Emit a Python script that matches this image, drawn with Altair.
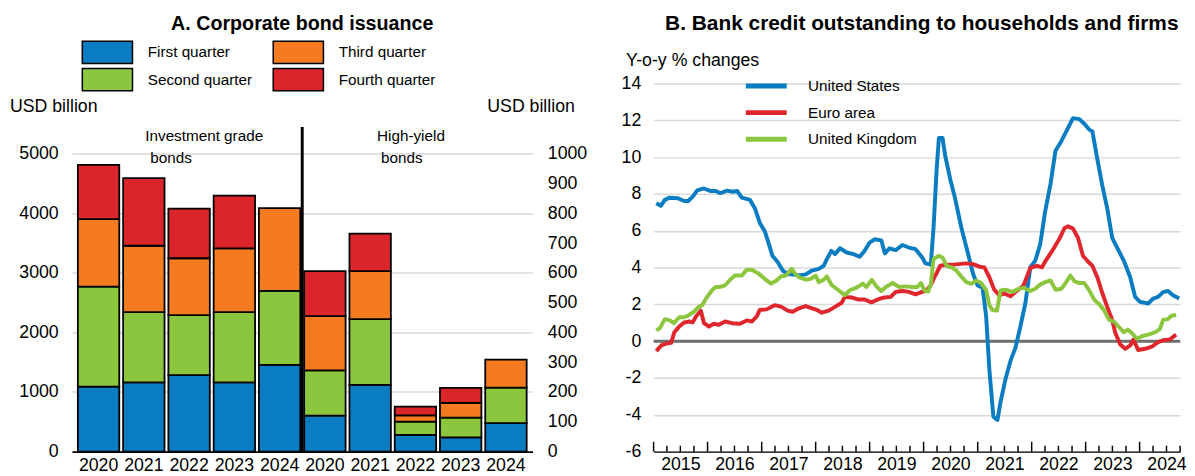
import altair as alt
import pandas as pd

FONT = "Liberation Sans"
BLUE, GREEN, ORANGE, RED = "#0a7cc1", "#8cc63e", "#f47b20", "#da252a"

# ---------------- Panel A data (USD billion, per quarter) ----------------
years = ["2020", "2021", "2022", "2023", "2024"]
quarters = ["First quarter", "Second quarter", "Third quarter", "Fourth quarter"]
ig_q1 = [1092, 1163, 1284, 1163, 1456]
ig_q2 = [1680, 1179, 1009, 1179, 1245]
ig_q3 = [1131, 1115, 954, 1070, 1389]
ig_q4 = [910, 1135, 832, 888, None]
hy_q1 = [121, 224, 56, 48, 96]
hy_q2 = [152, 221, 45, 66, 119]
hy_q3 = [182, 161, 21, 50, 94]
hy_q4 = [151, 126, 29, 50, None]

# ---------------- Panel B data (y-o-y % change; months since Jan 2015) ----------------
us_m = [0.6, 1.6, 2.5, 3.6, 5.4, 6.8, 7.7, 8.7, 9.7, 11.2,
        12.7, 13.8, 14.8, 16.3, 17.6, 18.6, 19.6, 21.4, 22.5, 23.6,
        24.7, 25.4, 26.4, 27.6, 28.7, 29.8, 30.9, 32.3, 33.8, 35.2,
        36.7, 37.8, 38.5, 39.5, 40.3, 41.4, 42.9, 44.4, 45.8, 46.9,
        48.0, 49.1, 50.6, 51.4, 52.4, 53.8, 55.3, 56.7, 58.2, 59.7,
        60.4, 61.6, 62.2, 62.9, 63.4, 64.2, 64.8, 65.9, 67.0, 68.4,
        69.9, 71.0, 72.0, 73.1, 73.9, 74.6, 75.5, 76.4, 77.1, 78.2,
        79.3, 80.4, 81.5, 82.6, 83.7, 84.8, 85.9, 87.0, 88.2, 89.3,
        90.6, 91.7, 93.2, 94.6, 95.7, 96.8, 97.5, 98.6, 99.7, 100.8,
        101.9, 103.0, 104.5, 105.9, 107.0, 108.1, 109.9, 111.0, 112.1, 113.2,
        114.3, 115.4, 116.8]
us_v = [7.5, 7.36, 7.68, 7.8, 7.77, 7.62, 7.62, 7.86, 8.2, 8.3,
        8.16, 8.16, 8.04, 8.18, 8.12, 8.16, 7.8, 7.68, 7.23, 6.43,
        5.98, 5.45, 4.64, 4.29, 3.84, 3.65, 3.63, 3.57, 3.63, 3.84,
        3.93, 4.1, 4.46, 4.91, 4.73, 5.05, 4.82, 4.73, 4.59, 4.91,
        5.36, 5.54, 5.48, 4.77, 5.05, 4.95, 5.23, 5.09, 5.0, 4.55,
        4.23, 4.17, 6.15, 9.36, 11.05, 11.05, 10.07, 8.82, 7.75, 6.15,
        4.72, 3.65, 3.03, 2.9, 1.34, -1.51, -4.1, -4.28, -3.3, -2.05,
        -1.07, -0.36, 0.8, 2.05, 4.01, 4.37, 5.26, 7.04, 8.55, 10.35,
        10.87, 11.4, 12.12, 12.07, 11.82, 11.5, 11.4, 9.89, 8.47, 7.22,
        5.62, 5.08, 4.37, 3.48, 2.41, 2.14, 2.05, 2.32, 2.41, 2.67,
        2.73, 2.5, 2.32]

ea_m = [0.6, 1.7, 2.8, 3.9, 4.6, 5.7, 6.8, 7.9, 8.7, 9.4,
        10.5, 11.2, 12.3, 13.4, 14.5, 15.9, 17.4, 19.2, 20.7, 21.8,
        22.9, 23.6, 25.1, 26.9, 28.3, 29.8, 30.9, 32.3, 33.8, 35.2,
        36.3, 37.4, 38.9, 40.4, 41.8, 42.5, 44.0, 45.4, 46.9, 48.4,
        49.8, 51.3, 52.7, 53.8, 55.3, 56.7, 58.2, 59.7, 60.6, 61.5,
        62.6, 63.7, 64.8, 66.2, 67.7, 69.5, 71.0, 72.4, 73.5, 74.6,
        75.7, 76.8, 77.9, 79.3, 80.8, 82.2, 83.7, 85.2, 86.3, 87.1,
        88.5, 90.3, 91.3, 92.1, 93.2, 94.3, 95.4, 96.5, 97.5, 98.6,
        99.7, 100.8, 101.9, 102.6, 103.7, 104.8, 105.9, 106.6, 107.7, 109.2,
        110.7, 112.1, 113.2, 114.7, 116.1]
ea_v = [-0.54, -0.23, -0.13, -0.09, 0.48, 0.8, 1.02, 1.07, 1.02, 1.34,
        1.66, 0.98, 0.8, 0.95, 0.89, 1.07, 0.98, 0.95, 1.13, 1.07,
        1.34, 1.7, 1.73, 1.96, 1.88, 1.66, 1.6, 1.79, 1.91, 1.79,
        1.7, 1.55, 1.66, 1.88, 2.09, 2.41, 2.38, 2.27, 2.27, 2.11,
        2.27, 2.38, 2.41, 2.68, 2.73, 2.68, 2.55, 2.68, 2.76, 3.0,
        3.57, 4.1, 4.15, 4.15, 4.19, 4.23, 4.19, 4.05, 4.01, 3.48,
        2.8, 2.5, 2.59, 2.44, 2.76, 3.03, 3.98, 4.1, 4.01, 4.37,
        4.88, 5.62, 6.15, 6.24, 6.12, 5.62, 4.64, 4.33, 4.1, 3.48,
        2.62, 1.87, 1.16, 0.45, -0.18, -0.41, -0.23, 0.09, -0.48, -0.41,
        -0.3, -0.05, 0.05, 0.09, 0.36]

uk_m = [0.6, 1.4, 2.5, 3.6, 4.5, 5.7, 6.8, 7.9, 9.0, 10.1,
        10.8, 11.9, 13.0, 13.8, 14.8, 15.9, 17.0, 18.1, 19.6, 20.7,
        21.8, 23.2, 24.7, 26.1, 27.3, 28.3, 29.4, 30.7, 31.5, 32.3,
        33.8, 34.9, 36.0, 36.7, 37.8, 38.5, 39.6, 41.1, 42.5, 43.6,
        45.1, 46.5, 47.3, 48.5, 49.5, 50.6, 51.6, 53.1, 54.6, 56.0,
        57.5, 58.6, 59.4, 60.2, 61.0, 61.6, 62.2, 63.3, 64.2, 65.1,
        66.2, 67.3, 68.4, 69.5, 70.6, 71.7, 72.8, 73.9, 74.6, 75.3,
        76.3, 77.1, 78.2, 79.7, 81.2, 82.2, 83.7, 84.8, 85.9, 87.0,
        88.2, 89.3, 90.6, 91.7, 92.6, 93.5, 94.6, 95.7, 96.8, 97.9,
        99.0, 100.1, 101.2, 102.3, 103.4, 104.5, 105.4, 106.4, 107.4, 108.5,
        109.9, 111.4, 112.5, 113.2, 114.3, 115.0, 116.1]
uk_v = [0.59, 0.71, 1.2, 1.13, 0.98, 1.3, 1.3, 1.43, 1.61, 1.88,
        1.96, 2.41, 2.77, 2.95, 2.95, 3.04, 3.34, 3.57, 3.57, 3.89,
        3.88, 3.7, 3.39, 3.13, 3.3, 3.52, 3.57, 3.93, 3.66, 3.48,
        3.34, 3.39, 3.57, 3.21, 3.34, 3.52, 3.04, 2.77, 2.5, 2.77,
        2.91, 3.13, 2.95, 3.34, 2.98, 2.73, 2.95, 3.16, 2.95, 2.98,
        2.95, 2.95, 3.16, 2.76, 2.7, 3.1, 4.46, 4.64, 4.55, 4.1,
        4.01, 3.83, 3.51, 3.21, 3.12, 3.3, 3.16, 2.76, 1.96, 1.69,
        1.66, 2.76, 2.8, 2.68, 2.85, 2.91, 2.73, 2.85, 3.08, 3.21,
        3.3, 2.8, 2.85, 3.21, 3.57, 3.26, 3.16, 3.16, 2.76, 2.26,
        2.01, 1.69, 1.16, 1.07, 0.77, 0.48, 0.63, 0.41, 0.13, 0.27,
        0.36, 0.48, 0.66, 1.16, 1.2, 1.37, 1.43]

series_names = ["United States", "Euro area", "United Kingdom"]
series_colors = [BLUE, "#e0262d", GREEN]
year_labels = list(range(2015, 2025))

# ---------------- build tables ----------------
def bar_rows(group, cols):
    rows = []
    for qi, (q, vals) in enumerate(zip(quarters, cols)):
        for y, v in zip(years, vals):
            if v is not None:
                rows.append({"key": f"{group}|{y}", "quarter": q, "qi": qi, "value": v})
    return pd.DataFrame(rows)

keys = [f"IG|{y}" for y in years] + [f"HY|{y}" for y in years]
ig_df = bar_rows("IG", [ig_q1, ig_q2, ig_q3, ig_q4])
hy_df = bar_rows("HY", [hy_q1, hy_q2, hy_q3, hy_q4])

BASE = pd.Timestamp("2015-01-01")
line_rows = []
for name, ms, vs in zip(series_names, [us_m, ea_m, uk_m], [us_v, ea_v, uk_v]):
    assert len(ms) == len(vs)
    for m, v in zip(ms, vs):
        line_rows.append({"series": name, "date": BASE + pd.Timedelta(days=m * 30.4375), "value": v})
line_df = pd.DataFrame(line_rows)

ticks_df = pd.DataFrame({"date": pd.date_range("2015-01-01", "2024-10-01", freq="QS")})
major_df = ticks_df[ticks_df["date"].dt.month == 1]
minor_df = ticks_df[ticks_df["date"].dt.month != 1]

# ---------------- helpers ----------------
def label(text, x, y, align="left", size=15.5, weight="normal"):
    return alt.Chart(pd.DataFrame({"t": [text]})).mark_text(
        align=align, baseline="middle", fontSize=size, font=FONT,
        fontWeight=weight, color="black"
    ).encode(text="t:N", x=alt.value(x), y=alt.value(y))

# ---------------- Panel A ----------------
WA, H = 468, 374
IG_TOP = 6180
legend_order = ["First quarter", "Third quarter", "Second quarter", "Fourth quarter"]
x_scale = alt.Scale(domain=keys, paddingInner=0.085, paddingOuter=0.13)
x_axis = alt.Axis(labelExpr="split(datum.label, '|')[1]", labelAngle=0,
                  ticks=False, tickSize=0, labelPadding=5, grid=False,
                  domainColor="black", domainWidth=2)
x_enc = alt.X("key:N", scale=x_scale, sort=keys, title=None, axis=x_axis)
color_enc = alt.Color(
    "quarter:N",
    scale=alt.Scale(domain=legend_order, range=[BLUE, ORANGE, GREEN, RED]),
    legend=alt.Legend(orient="none", legendX=23, legendY=-45, columns=2, title=None,
                      values=legend_order, direction="horizontal",
                      symbolType="M-2.125,-0.94H2.125V0.94H-2.125Z", symbolSize=576,
                      symbolStrokeColor="black", symbolStrokeWidth=1.5, symbolOpacity=1,
                      labelFontSize=15.5, labelFont=FONT, labelColor="black", labelOffset=28,
                      columnPadding=18, rowPadding=-5, padding=0))

ig_bars = alt.Chart(ig_df).mark_bar(stroke="black", strokeWidth=1.8).encode(
    x=x_enc,
    y=alt.Y("value:Q", stack="zero", title=None,
            scale=alt.Scale(domain=[0, IG_TOP], nice=False),
            axis=alt.Axis(orient="left", values=list(range(0, 5001, 500)), format="d",
                          grid=True, domain=False, ticks=False, labelPadding=14,
                          labelOverlap=False)),
    color=color_enc,
    order=alt.Order("qi:Q", sort="ascending"),
)
divider = alt.Chart(pd.DataFrame({"key": ["HY|2020"], "top": [5450], "bottom": [0]})).mark_rule(
    color="black", strokeWidth=3, xOffset=-2
).encode(
    x=alt.X("key:N", scale=x_scale, sort=keys, bandPosition=0, title=None, axis=x_axis),
    y=alt.Y("top:Q", scale=alt.Scale(domain=[0, IG_TOP], nice=False)),
    y2="bottom:Q",
)
hy_bars = alt.Chart(hy_df).mark_bar(stroke="black", strokeWidth=1.8).encode(
    x=x_enc,
    y=alt.Y("value:Q", stack="zero", title=None,
            scale=alt.Scale(domain=[0, IG_TOP / 5], nice=False),
            axis=alt.Axis(orient="right", values=list(range(0, 1001, 100)), format="d",
                          grid=False, domain=False, ticks=False, labelPadding=15,
                          labelOverlap=False)),
    color=color_enc,
    order=alt.Order("qi:Q", sort="ascending"),
)

left = alt.layer(
    alt.layer(ig_bars, divider),
    hy_bars,
    label("A. Corporate bond issuance", WA / 2, -60, align="center", size=20, weight="bold"),
    label("USD billion", -63, 24, size=18),
    label("USD billion", 511, 24, align="right", size=18),
    label("Investment grade", 74.5, 53),
    label("bonds", 79.5, 76),
    label("High-yield", 310, 53),
    label("bonds", 314, 76),
).resolve_scale(y="independent").properties(width=WA, height=H)

# ---------------- Panel B ----------------
WB = 535
x_time = alt.Scale(domain=[alt.DateTime(year=2015, month=1, date=1),
                           alt.DateTime(year=2024, month=10, date=1)])
y_scale_b = alt.Scale(domain=[-6, 14], nice=False)
y_axis_b = alt.Axis(values=list(range(-6, 15, 2)), labelExpr="'' + datum.value",
                    grid=True, domain=False, ticks=False, labelPadding=13,
                    labelOverlap=False)
x_axis_b = alt.Axis(values=[alt.DateTime(year=y, month=7, date=1) for y in year_labels],
                    format="%Y", ticks=False, tickSize=0, labelPadding=4, grid=False,
                    domainColor="black", domainWidth=1.5, labelOverlap=False)

zero = alt.Chart(pd.DataFrame({"z": [0]})).mark_rule(color="#6f6f6f", strokeWidth=3).encode(
    y=alt.Y("z:Q", scale=y_scale_b, title=None, axis=y_axis_b)
)
lines = alt.Chart(line_df).mark_line(strokeWidth=4, strokeJoin="round").encode(
    x=alt.X("date:T", scale=x_time, title=None, axis=x_axis_b),
    y=alt.Y("value:Q", scale=y_scale_b, title=None, axis=y_axis_b),
    color=alt.Color("series:N", scale=alt.Scale(domain=series_names, range=series_colors),
                    legend=alt.Legend(orient="none", legendX=104, legendY=-8, title=None,
                                      symbolType="M-2.6,0H2.6", symbolSize=256,
                                      symbolStrokeWidth=5,
                                      labelFontSize=15.5, labelFont=FONT, labelColor="black",
                                      labelOffset=32, rowPadding=6, padding=0)),
)
major_ticks = alt.Chart(major_df).mark_rule(color="black", strokeWidth=1.5).encode(
    x=alt.X("date:T", scale=x_time, title=None, axis=x_axis_b), y=alt.value(H), y2=alt.value(H - 10)
)
minor_ticks = alt.Chart(minor_df).mark_rule(color="black", strokeWidth=1.5).encode(
    x=alt.X("date:T", scale=x_time, title=None, axis=x_axis_b), y=alt.value(H), y2=alt.value(H - 6)
)

right = alt.layer(
    zero, lines, major_ticks, minor_ticks,
    label("B. Bank credit outstanding to households and firms", WB / 2 + 5, -60,
          align="center", size=21.2, weight="bold"),
    label("Y-o-y % changes", -28, -23, size=18),
).properties(width=WB, height=H)

chart = alt.hconcat(left, right, spacing=33).resolve_scale(color="independent").configure(
    font=FONT, padding={"left": 2, "top": 2, "right": 0, "bottom": 0}
).configure_view(stroke=None).configure_axis(
    labelFont=FONT, labelFontSize=18, labelColor="black",
    gridColor="#d9d9d9", gridWidth=1.5
)

chart.save("out.html", embed_options={"renderer": "svg", "actions": False})
